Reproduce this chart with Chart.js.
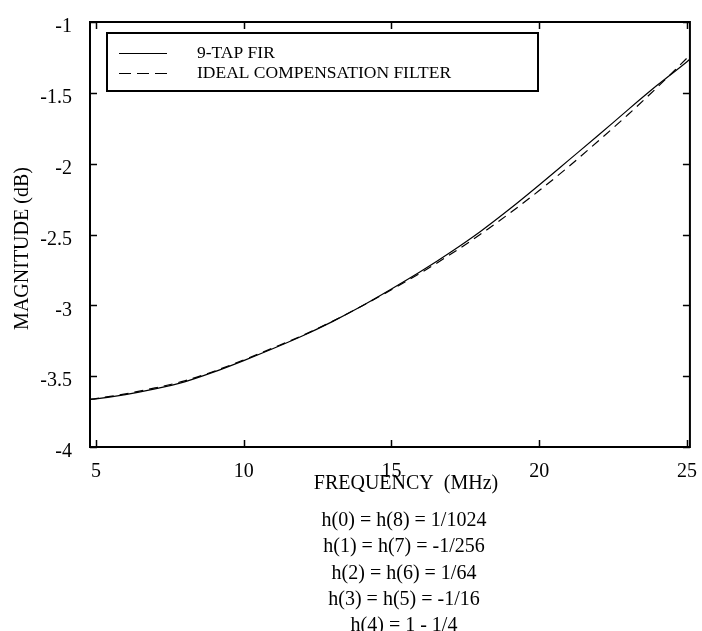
<!DOCTYPE html>
<html>
<head>
<meta charset="utf-8">
<script src="https://cdn.jsdelivr.net/npm/chart.js@4.4.0/dist/chart.umd.min.js"></script>
<style>
  html, body { margin: 0; padding: 0; background: #fff; }
  #plot { display: block; }
</style>
</head>
<body>
<canvas id="plot" width="702" height="631"></canvas>
<script>
// frequency axis (MHz) and magnitude response (dB) of both filters
const freqMHz = [4.8, 5, 6, 7, 8, 9, 10, 11, 12, 13, 14, 15, 16, 17, 18, 19, 20, 21, 22, 23, 24, 25, 25.1];
const firDb   = [-3.664, -3.660, -3.630, -3.590, -3.540, -3.470, -3.390, -3.305, -3.215, -3.115, -3.005, -2.885,
                 -2.760, -2.625, -2.480, -2.320, -2.150, -1.975, -1.800, -1.620, -1.445, -1.280, -1.262];
const idealDb = [-3.664, -3.658, -3.625, -3.583, -3.533, -3.465, -3.385, -3.300, -3.212, -3.113, -3.005, -2.890,
                 -2.770, -2.640, -2.500, -2.350, -2.190, -2.020, -1.840, -1.655, -1.460, -1.255, -1.235];

const seriesNames = ['9-TAP FIR', 'IDEAL COMPENSATION FILTER'];
const xTicks = [5, 10, 15, 20, 25];
const yTicks = [-1, -1.5, -2, -2.5, -3, -3.5, -4];
const xTitle = 'FREQUENCY  (MHz)';
const yTitle = 'MAGNITUDE (dB)';
const coeffLines = [
  'h(0) = h(8) = 1/1024',
  'h(1) = h(7) = -1/256',
  'h(2) = h(6) = 1/64',
  'h(3) = h(5) = -1/16',
  'h(4) = 1 - 1/4'
];

const SERIF = '"Liberation Serif", "Times New Roman", serif';

const toPoints = ys => freqMHz.map((f, i) => ({ x: f, y: ys[i] }));

// box around the plot plus inward tick marks on all four sides
const frameTicks = {
  id: 'frameTicks',
  afterDatasetsDraw(chart) {
    const { ctx, chartArea: a, scales: { x, y } } = chart;
    ctx.save();
    ctx.strokeStyle = '#000';
    ctx.lineWidth = 2;
    ctx.strokeRect(a.left, a.top, a.right - a.left, a.bottom - a.top);
    ctx.lineWidth = 1.5;
    ctx.beginPath();
    xTicks.forEach(v => {
      const px = Math.round(x.getPixelForValue(v)) + 0.5;
      ctx.moveTo(px, a.bottom); ctx.lineTo(px, a.bottom - 7);
      ctx.moveTo(px, a.top); ctx.lineTo(px, a.top + 7);
    });
    yTicks.forEach(v => {
      const py = Math.round(y.getPixelForValue(v)) + 0.5;
      ctx.moveTo(a.left, py); ctx.lineTo(a.left + 7, py);
      ctx.moveTo(a.right, py); ctx.lineTo(a.right - 7, py);
    });
    ctx.stroke();
    ctx.restore();
  }
};

// framed legend in the upper left corner of the plot
const boxedLegend = {
  id: 'boxedLegend',
  afterDraw(chart) {
    const { ctx, chartArea: a } = chart;
    const left = a.left + 17, top = a.top + 11, w = 431, h = 58;
    ctx.save();
    ctx.fillStyle = '#fff';
    ctx.fillRect(left, top, w, h);
    ctx.strokeStyle = '#000';
    ctx.lineWidth = 2;
    ctx.strokeRect(left, top, w, h);
    ctx.font = '17.5px ' + SERIF;
    ctx.fillStyle = '#000';
    ctx.textBaseline = 'middle';
    chart.data.datasets.forEach((ds, i) => {
      const rowY = Math.round(top + 20 + i * 20) + 0.5;
      ctx.lineWidth = 1;
      ctx.setLineDash(ds.borderDash ? [12, 6] : []);
      ctx.beginPath();
      ctx.moveTo(left + 12, rowY);
      ctx.lineTo(left + 60, rowY);
      ctx.stroke();
      ctx.setLineDash([]);
      ctx.fillText(seriesNames[i], left + 90, rowY);
    });
    ctx.restore();
  }
};

// axis titles and the filter coefficients listed under the frequency axis
const captions = {
  id: 'captions',
  afterDraw(chart) {
    const { ctx, chartArea: a } = chart;
    ctx.save();
    ctx.font = '20px ' + SERIF;
    ctx.fillStyle = '#000';
    ctx.textAlign = 'center';
    ctx.textBaseline = 'middle';
    ctx.fillText(xTitle, 406, a.bottom + 37);
    coeffLines.forEach((t, i) => ctx.fillText(t, 404, 521 + i * 26.2));
    ctx.translate(23, (a.top + a.bottom) / 2 + 14);
    ctx.rotate(-Math.PI / 2);
    ctx.fillText(yTitle, 0, 0);
    ctx.restore();
  }
};

new Chart(document.getElementById('plot'), {
  type: 'line',
  data: {
    datasets: [
      {
        label: seriesNames[0],
        data: toPoints(firDb),
        borderColor: '#000',
        borderWidth: 1.2,
        pointRadius: 0,
        cubicInterpolationMode: 'monotone'
      },
      {
        label: seriesNames[1],
        data: toPoints(idealDb),
        borderColor: '#000',
        borderWidth: 1.2,
        borderDash: [9, 6],
        pointRadius: 0,
        cubicInterpolationMode: 'monotone'
      }
    ]
  },
  options: {
    responsive: false,
    animation: false,
    devicePixelRatio: 1,
    layout: { padding: { top: 18, right: 7, bottom: 124, left: 0 } },
    plugins: {
      legend: { display: false },
      tooltip: { enabled: false }
    },
    scales: {
      x: {
        type: 'linear',
        min: 4.8,
        max: 25.1,
        afterBuildTicks: s => { s.ticks = xTicks.map(v => ({ value: v })); },
        afterFit: s => { s.height = 60; },
        grid: { display: false },
        border: { display: false },
        ticks: { padding: 5, color: '#000', font: { family: SERIF, size: 20 }, maxRotation: 0 }
      },
      y: {
        min: -4,
        max: -1,
        afterBuildTicks: s => { s.ticks = yTicks.map(v => ({ value: v })); },
        afterFit: s => { s.width = 90; },
        grid: { display: false },
        border: { display: false },
        ticks: { padding: 10, labelOffset: 5, color: '#000', font: { family: SERIF, size: 20 }, callback: v => String(v) }
      }
    }
  },
  plugins: [frameTicks, boxedLegend, captions]
});
</script>
</body>
</html>
